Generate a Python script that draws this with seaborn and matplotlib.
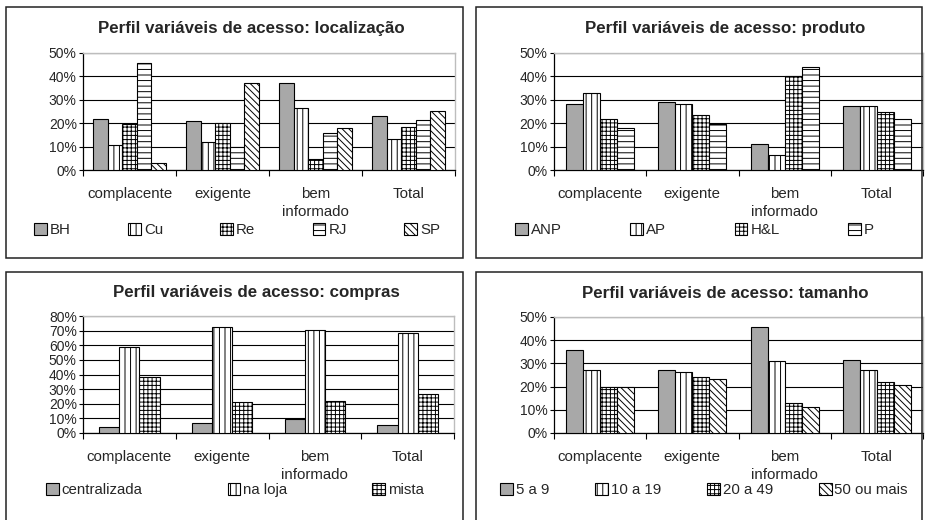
import numpy as np
import pandas as pd
import matplotlib
matplotlib.use("Agg")
import matplotlib.pyplot as plt
import matplotlib.patches as mpatches
from matplotlib.ticker import PercentFormatter
import seaborn as sns

# --- data (percent) ---
categorias = ["complacente", "exigente", "bem\ninformado", "Total"]

loc_series = ["BH", "Cu", "Re", "RJ", "SP"]
loc_BH = [21.7, 21.0, 37.1, 22.9]
loc_Cu = [10.8, 12.0, 26.3, 13.1]
loc_Re = [19.6, 19.9, 4.5, 18.3]
loc_RJ = [45.7, 9.9, 15.6, 21.2]
loc_SP = [2.8, 37.1, 17.8, 25.1]

prod_series = ["ANP", "AP", "H&L", "P"]
prod_ANP = [28.0, 29.1, 10.9, 27.4]
prod_AP = [33.1, 28.0, 6.3, 27.4]
prod_HL = [21.6, 23.4, 40.1, 24.6]
prod_P = [17.8, 19.6, 44.0, 21.6]

comp_series = ["centralizada", "na loja", "mista"]
comp_centralizada = [3.9, 6.6, 9.6, 5.7]
comp_naloja = [58.6, 72.7, 70.5, 68.6]
comp_mista = [38.4, 21.1, 21.8, 26.6]

tam_series = ["5 a 9", "10 a 19", "20 a 49", "50 ou mais"]
tam_5a9 = [35.6, 27.0, 45.9, 31.6]
tam_10a19 = [27.0, 26.3, 31.0, 27.0]
tam_20a49 = [19.7, 24.1, 13.1, 21.9]
tam_50mais = [19.7, 23.1, 11.0, 20.7]

# --- fill / hatch style per series position ---
FILLS = {
    "solid": ("#a8a8a8", ""),
    "vert": ("white", "|||"),
    "dots": ("white", "++++"),
    "dash": ("white", "---"),
    "diag": ("white", "\\\\\\\\\\"),
}

plt.rcParams["hatch.linewidth"] = 0.7
sns.set_style("white")
plt.rcParams["font.family"] = ["Liberation Sans", "DejaVu Sans"]
FS = 10.8

W, H = 925, 520


def fx(px):
    return px / W


def fy(py):
    return 1 - py / H


def long_frame(series, values):
    rows = []
    for s, vals in zip(series, values):
        for c, v in zip(categorias, vals):
            rows.append({"cat": c, "serie": s, "valor": v})
    return pd.DataFrame(rows)


def draw_panel(fig, ax_px, box_px, title, title_xy, series, values, styles,
               ymax, width, leg_px):
    x0, x1, y0, y1 = ax_px
    ax = fig.add_axes([fx(x0), fy(y1), fx(x1) - fx(x0), fy(y0) - fy(y1)])
    df = long_frame(series, values)
    sns.barplot(data=df, x="cat", y="valor", hue="serie", ax=ax,
                order=categorias, hue_order=series, width=width,
                palette=["white"] * len(series), edgecolor="black",
                linewidth=0.8, legend=False, saturation=1, errorbar=None)

    handles = []
    for cont, st, name in zip(ax.containers, styles, series):
        fc, hatch = FILLS[st]
        for bar in cont:
            bar.set_facecolor(fc)
            bar.set_hatch(hatch)
            bar.set_zorder(3)
        handles.append(mpatches.Patch(facecolor=fc, edgecolor="black",
                                      hatch=hatch, linewidth=0.8, label=name))

    ax.set_xlim(-0.5, 3.5)
    ax.set_ylim(0, ymax)
    ax.set_yticks(np.arange(0, ymax + 1, 10))
    ax.yaxis.set_major_formatter(PercentFormatter(decimals=0))
    ax.yaxis.grid(True, color="black", linewidth=0.8, zorder=0)
    ax.set_axisbelow(True)
    ax.set_xticks([-0.5, 0.5, 1.5, 2.5, 3.5])
    ax.set_xticklabels([])
    ax.set_xticks(range(4), minor=True)
    ax.set_xticklabels(categorias, minor=True, fontsize=FS,
                       linespacing=1.4)
    ax.tick_params(axis="x", which="major", direction="out", length=4,
                   width=0.8, color="black", bottom=True)
    ax.tick_params(axis="x", which="minor", length=0, pad=12)
    ax.tick_params(axis="y", direction="out", length=3, width=0.8,
                   color="black", left=True, pad=1.5, labelsize=10)
    ax.set_xlabel("")
    ax.set_ylabel("")
    for side in ["top", "right"]:
        ax.spines[side].set_color("#bdbdbd")
        ax.spines[side].set_linewidth(1.0)
    for side in ["left", "bottom"]:
        ax.spines[side].set_color("black")
        ax.spines[side].set_linewidth(0.9)

    bx0, bx1, by0, by1 = box_px
    fig.patches.append(mpatches.Rectangle(
        (fx(bx0), fy(by1)), fx(bx1) - fx(bx0), fy(by0) - fy(by1),
        fill=False, edgecolor="#222222", linewidth=1.1,
        transform=fig.transFigure, zorder=0))

    fig.text(fx(title_xy[0]), fy(title_xy[1]), title, ha="center",
             va="center", fontsize=12.2, fontweight="bold")

    lx0, lx1, ly = leg_px
    fig.legend(handles=handles, ncol=len(series), mode="expand",
               loc="center",
               bbox_to_anchor=(fx(lx0), fy(ly) - 0.02, fx(lx1) - fx(lx0), 0.04),
               bbox_transform=fig.transFigure, frameon=False, fontsize=FS,
               handlelength=0.85, handleheight=0.85, handletextpad=0.2,
               borderaxespad=0, borderpad=0)


fig = plt.figure(figsize=(9.25, 5.2), dpi=100)

draw_panel(fig, (83, 455, 53, 170), (6, 463, 7, 258),
           "Perfil variáveis de acesso: localização", (251, 29),
           loc_series, [loc_BH, loc_Cu, loc_Re, loc_RJ, loc_SP],
           ["solid", "vert", "dots", "dash", "diag"], 50, 0.785,
           (34, 440, 230))

draw_panel(fig, (554, 923, 53, 170), (476, 922, 7, 258),
           "Perfil variáveis de acesso: produto", (725, 29),
           prod_series, [prod_ANP, prod_AP, prod_HL, prod_P],
           ["solid", "vert", "dots", "dash"], 50, 0.735,
           (515, 874, 230))

draw_panel(fig, (83, 454, 316, 433), (6, 463, 272, 525),
           "Perfil variáveis de acesso: compras", (256, 293),
           comp_series, [comp_centralizada, comp_naloja, comp_mista],
           ["solid", "vert", "dots"], 80, 0.65,
           (46, 424, 490))

draw_panel(fig, (554, 923, 317, 433), (476, 922, 272, 525),
           "Perfil variáveis de acesso: tamanho", (725, 293),
           tam_series, [tam_5a9, tam_10a19, tam_20a49, tam_50mais],
           ["solid", "vert", "dots", "diag"], 50, 0.735,
           (500, 908, 490))

fig.savefig("out.png", dpi=100)
